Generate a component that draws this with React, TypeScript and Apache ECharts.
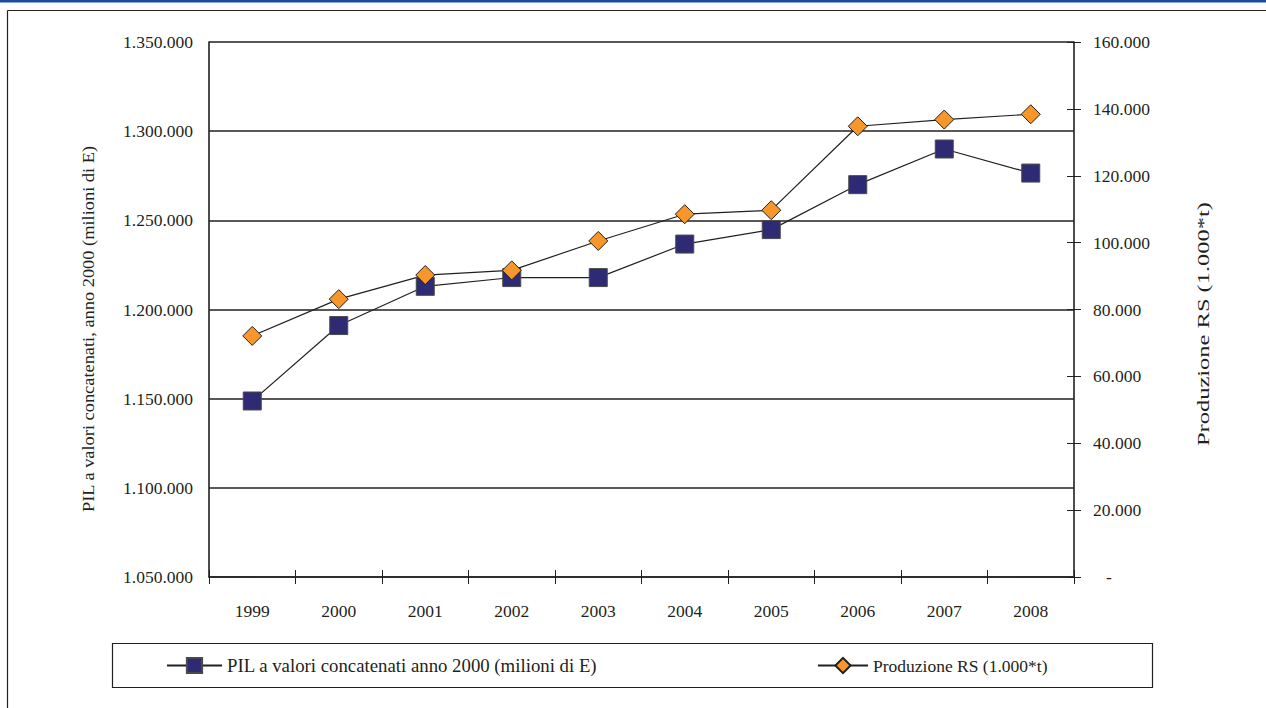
import React, { useEffect, useRef } from "react";
import * as echarts from "echarts";

// Years on the category axis
const years = ["1999", "2000", "2001", "2002", "2003", "2004", "2005", "2006", "2007", "2008"];

// PIL a valori concatenati, anno 2000 (milioni di euro) – left axis
const pil = [1148700, 1191000, 1213000, 1217900, 1217900, 1236700, 1244800, 1270000, 1290000, 1276500];

// Produzione RS (migliaia di tonnellate) – right axis
const produzioneRS = [72100, 83100, 90300, 91700, 100500, 108500, 109700, 134800, 136800, 138400];

const pilName = "PIL a valori concatenati anno 2000 (milioni di E)";
const rsName = "Produzione RS (1.000*t)";
const leftTitle = "PIL a valori concatenati, anno 2000 (milioni di E)";
const rightTitle = "Produzione RS (1.000*t)";

const FONT = "Liberation Serif";
const INK = "#231f20";
const FS = 17.5;

const dotted = (v: number) => String(Math.round(v)).replace(/\B(?=(\d{3})+(?!\d))/g, ".");

export default function App() {
  const ref = useRef<HTMLDivElement>(null);

  useEffect(() => {
    if (!ref.current) return;
    const chart = echarts.init(ref.current, null, { renderer: "svg" });

    const hiddenAxisParts = {
      axisLine: { show: false },
      axisLabel: { show: false },
      splitLine: { show: false },
    };

    const labelText = { fontFamily: FONT, fontSize: FS, color: INK };

    chart.setOption({
      animation: false,
      backgroundColor: "#ffffff",
      textStyle: { fontFamily: FONT, color: INK },
      grid: { left: 209, right: 192, top: 42, bottom: 131, containLabel: false },
      xAxis: [
        {
          type: "category",
          data: years,
          boundaryGap: true,
          axisLine: { show: true, lineStyle: { color: INK, width: 1.6 } },
          axisTick: { show: true, inside: false, length: 7, lineStyle: { color: INK, width: 1 } },
          axisLabel: { ...labelText, margin: 25 },
          splitLine: { show: false },
        },
        {
          // inward half of the crossing ticks
          type: "category",
          data: years,
          position: "bottom",
          boundaryGap: true,
          axisTick: { show: true, inside: true, length: 7, lineStyle: { color: INK, width: 1 } },
          ...hiddenAxisParts,
        },
      ],
      yAxis: [
        {
          type: "value",
          min: 1050000,
          max: 1350000,
          interval: 50000,
          position: "left",
          axisLine: { show: true, lineStyle: { color: INK, width: 1.6 } },
          axisTick: { show: false },
          axisLabel: { ...labelText, margin: 16, formatter: (v: number) => dotted(v) },
          splitLine: { show: true, lineStyle: { color: INK, width: 1.5 } },
        },
        {
          type: "value",
          min: 0,
          max: 160000,
          interval: 20000,
          position: "right",
          axisLine: { show: true, lineStyle: { color: INK, width: 1.6 } },
          axisTick: { show: true, inside: false, length: 7, lineStyle: { color: INK, width: 1 } },
          axisLabel: {
            ...labelText,
            margin: 19,
            formatter: (v: number) => (v === 0 ? "{dash|-}" : dotted(v)),
            rich: { dash: { ...labelText, padding: [0, 0, 0, 13] } },
          },
          splitLine: { show: false },
        },
        {
          // inward half of the crossing ticks on the right axis
          type: "value",
          min: 0,
          max: 160000,
          interval: 20000,
          position: "right",
          axisTick: { show: true, inside: true, length: 7, lineStyle: { color: INK, width: 1 } },
          ...hiddenAxisParts,
        },
      ],
      legend: [
        {
          data: [pilName],
          left: 166,
          top: 656,
          padding: 0,
          itemWidth: 55,
          itemHeight: 19,
          textStyle: { ...labelText, fontSize: 18.8, lineHeight: 19 },
        },
        {
          data: [rsName],
          left: 817,
          top: 656,
          padding: 0,
          itemWidth: 50,
          itemHeight: 19,
          textStyle: { ...labelText, lineHeight: 19 },
        },
      ],
      series: [
        {
          name: pilName,
          type: "line",
          xAxisIndex: 0,
          yAxisIndex: 0,
          data: pil,
          symbol: "rect",
          symbolSize: 18,
          lineStyle: { color: INK, width: 1.2 },
          itemStyle: { color: "#2e2a73", borderColor: "#4a4a4a", borderWidth: 1 },
          emphasis: { disabled: true },
        },
        {
          name: rsName,
          type: "line",
          xAxisIndex: 0,
          yAxisIndex: 1,
          data: produzioneRS,
          symbol: "diamond",
          symbolSize: 19,
          lineStyle: { color: INK, width: 1.2 },
          itemStyle: { color: "#f7962a", borderColor: INK, borderWidth: 1 },
          emphasis: { disabled: true },
        },
      ],
      graphic: [
        // blue band across the top
        { type: "rect", shape: { x: 0, y: 0, width: 1266, height: 2.5 }, style: { fill: "#1c4c9c" }, silent: true },
        // outer frame: top and left edges (the others run off the page)
        {
          type: "line",
          shape: { x1: 7.5, y1: 10.5, x2: 1266, y2: 10.5 },
          style: { stroke: INK, lineWidth: 1.2 },
          silent: true,
        },
        {
          type: "line",
          shape: { x1: 7.5, y1: 10.5, x2: 7.5, y2: 708 },
          style: { stroke: INK, lineWidth: 1.2 },
          silent: true,
        },
        // legend box
        {
          type: "rect",
          shape: { x: 112.5, y: 643.5, width: 1040, height: 44 },
          style: { fill: "none", stroke: INK, lineWidth: 1.2 },
          silent: true,
        },
        // axis titles
        {
          type: "text",
          x: 88,
          y: 329,
          rotation: Math.PI / 2,
          scaleX: 1.05,
          style: {
            text: leftTitle,
            fontFamily: FONT,
            fontSize: FS,
            fill: INK,
            align: "center",
            verticalAlign: "middle",
          },
          silent: true,
        },
        {
          type: "text",
          x: 1203,
          y: 324,
          rotation: Math.PI / 2,
          scaleX: 1.4,
          style: {
            text: rightTitle,
            fontFamily: FONT,
            fontSize: FS,
            fill: INK,
            align: "center",
            verticalAlign: "middle",
          },
          silent: true,
        },
      ],
    });

    return () => chart.dispose();
  }, []);

  return (
    <div
      ref={ref}
      style={{ position: "fixed", left: 0, top: 0, width: 1266, height: 708, background: "#fff" }}
    />
  );
}
